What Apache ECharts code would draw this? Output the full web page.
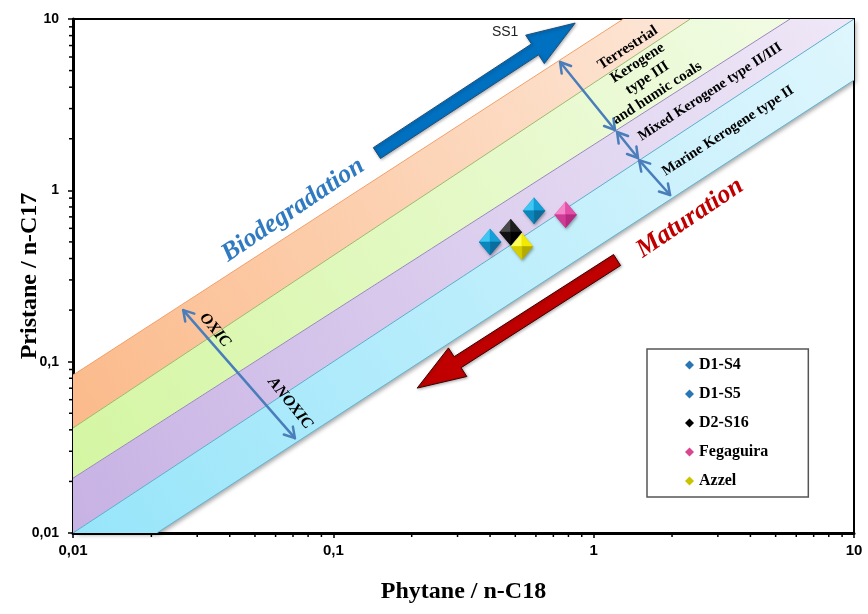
<!DOCTYPE html>
<html>
<head>
<meta charset="utf-8">
<script src="https://cdn.jsdelivr.net/npm/echarts@6/dist/echarts.min.js"></script>
<style>
  html, body { margin: 0; padding: 0; background: #ffffff; }
  #chart { width: 868px; height: 614px; }
</style>
</head>
<body>
<div id="chart"></div>
<script>
// ---- Axis ticks -------------------------------------------------------
const decadeValues = [0.01, 0.1, 1, 10];
const xTickLabels = ['0,01', '0,1', '1', '10'];
const yTickLabels = ['0,01', '0,1', '1', '10'];
const minorTickValues = [
  0.02, 0.03, 0.04, 0.05, 0.06, 0.07, 0.08, 0.09,
  0.2, 0.3, 0.4, 0.5, 0.6, 0.7, 0.8, 0.9,
  2, 3, 4, 5, 6, 7, 8, 9
];

// ---- Kerogene field boundaries, [Ph/n-C18, Pr/n-C17] end points -------
const boundaryMarineLow   = [[0.021, 0.01], [10, 4.4]];
const boundaryMarineMixed = [[0.01, 0.01], [10, 10]];
const boundaryMixedTerr   = [[0.01, 0.0209], [5.68, 10]];
const boundaryTerrMid     = [[0.01, 0.041], [2.35, 10]];
const boundaryTerrHigh    = [[0.01, 0.0835], [1.30, 10]];

// ---- Samples ----------------------------------------------------------
const sampleNames = ['D1-S4', 'D1-S5', 'D2-S16', 'Fegaguira', 'Azzel'];
const phytaneC18  = [0.40, 0.59, 0.48, 0.78, 0.53];
const pristaneC17 = [0.50, 0.76, 0.57, 0.72, 0.47];

// ---- Annotation anchors in data space ---------------------------------
const ss1Arrow        = [[0.147, 1.65], [0.849, 9.47]];
const maturationArrow = [[1.23, 0.392], [0.21, 0.0701]];
const oxicArrow       = [[0.0265, 0.200], [0.0712, 0.0358]];
const terrestrialArrow = [[0.743, 5.61], [1.208, 2.25]];
const mixedArrow      = [[1.23, 2.19], [1.48, 1.544]];
const marineArrow     = [[1.494, 1.50], [1.966, 0.939]];
const ss1Anchor        = [0.457, 8.4];
const biodegAnchor     = [0.070, 0.767];
const maturationAnchor = [2.345, 0.689];
const oxicAnchor       = [0.0351, 0.153];
const anoxicAnchor     = [0.0682, 0.0573];
const terrestrialAnchor = [1.54, 5.0];
const mixedAnchor      = [2.80, 3.75];
const marineAnchor     = [3.28, 2.22];

// ---- Styling ----------------------------------------------------------
const SERIF = '"Liberation Serif", "Times New Roman", serif';
const SANS = '"Liberation Sans", Arial, sans-serif';

const bandDefs = [
  { name: 'marine',  lower: boundaryMarineLow,   upper: boundaryMarineMixed, c0: '#97e5fa', c1: '#dff6fd', shadow: true },
  { name: 'mixed',   lower: boundaryMarineMixed, upper: boundaryMixedTerr,   c0: '#c7b2e4', c1: '#efe8f7' },
  { name: 'terrMid', lower: boundaryMixedTerr,   upper: boundaryTerrMid,     c0: '#d4f6a2', c1: '#f1fbe3' },
  { name: 'terr',    lower: boundaryTerrMid,     upper: boundaryTerrHigh,    c0: '#fbba8a', c1: '#fde6d6' }
];
const boundaryDefs = [
  { line: boundaryMarineLow,   color: '#63b5d2' },
  { line: boundaryMarineMixed, color: '#5aaecb' },
  { line: boundaryMixedTerr,   color: '#9a86bd' },
  { line: boundaryTerrMid,     color: '#9cba6c' },
  { line: boundaryTerrHigh,    color: '#f2a06b' }
];
// facet shades: upper-left, upper-right, lower-right, lower-left
const sampleShades = [
  ['#3fc6f2', '#139fd8', '#0a6d9c', '#0d86bb'],
  ['#3fc6f2', '#139fd8', '#0a6d9c', '#0d86bb'],
  ['#4a4a4a', '#1e1e1e', '#000000', '#111111'],
  ['#f585c8', '#e24fa9', '#b72a83', '#cf3c96'],
  ['#ffff55', '#f2ea00', '#b3ab00', '#d6cf00']
];
const sampleLegendColors = ['#2a76b4', '#2a76b4', '#000000', '#d9458f', '#c9c400'];

function tickIndex(v) {
  return decadeValues.findIndex(d => Math.abs(Math.log10(d) - Math.log10(v)) < 1e-6);
}

const series = [];

// Kerogene field bands
bandDefs.forEach(b => {
  series.push({
    type: 'custom',
    name: b.name,
    silent: true,
    z: 1,
    data: [[b.lower[0][0], b.lower[0][1]]],
    renderItem: function (params, api) {
      const pts = b.lower.concat(b.upper.slice().reverse()).map(p => api.coord(p));
      const style = {
        fill: new echarts.graphic.LinearGradient(0, 1, 1, 0, [
          { offset: 0, color: b.c0 },
          { offset: 1, color: b.c1 }
        ]),
        stroke: 'none'
      };
      if (b.shadow) {
        style.shadowColor = 'rgba(0,0,0,0.35)';
        style.shadowBlur = 4;
        style.shadowOffsetX = 2;
        style.shadowOffsetY = 2;
      }
      return { type: 'polygon', shape: { points: pts }, style: style };
    }
  });
});

// Band boundary lines
boundaryDefs.forEach((b, i) => {
  series.push({
    type: 'line',
    name: 'boundary' + i,
    silent: true,
    z: 2,
    symbol: 'none',
    data: b.line,
    lineStyle: { color: b.color, width: 1 }
  });
});

// Sample markers, drawn as faceted diamonds
sampleNames.forEach((name, i) => {
  const shades = sampleShades[i];
  series.push({
    type: 'custom',
    name: name,
    z: 10,
    itemStyle: { color: sampleLegendColors[i] },
    data: [[phytaneC18[i], pristaneC17[i]]],
    renderItem: function (params, api) {
      const c = api.coord([api.value(0), api.value(1)]);
      const hw = 11, hh = 13;
      const T = [c[0], c[1] - hh], R = [c[0] + hw, c[1]], B = [c[0], c[1] + hh], L = [c[0] - hw, c[1]];
      const facets = [[c, L, T], [c, T, R], [c, R, B], [c, B, L]];
      return {
        type: 'group',
        children: [{
          type: 'polygon',
          shape: { points: [T, R, B, L] },
          style: { fill: shades[2], shadowColor: 'rgba(0,0,0,0.35)', shadowBlur: 3, shadowOffsetX: 1, shadowOffsetY: 2 }
        }].concat(facets.map((f, k) => ({
          type: 'polygon',
          shape: { points: f },
          style: { fill: shades[k], stroke: shades[k], lineWidth: 0.5 }
        })))
      };
    }
  });
});

// Minor log ticks on both axes
series.push({
  type: 'custom',
  name: 'xMinor',
  silent: true,
  clip: false,
  z: 20,
  data: minorTickValues.map(v => [v, 0.01]),
  renderItem: function (params, api) {
    const p = api.coord([api.value(0), api.value(1)]);
    return { type: 'line', shape: { x1: p[0], y1: p[1], x2: p[0], y2: p[1] + 4 }, style: { stroke: '#000', lineWidth: 1.5 } };
  }
});
series.push({
  type: 'custom',
  name: 'yMinor',
  silent: true,
  clip: false,
  z: 20,
  data: minorTickValues.map(v => [0.01, v]),
  renderItem: function (params, api) {
    const p = api.coord([api.value(0), api.value(1)]);
    return { type: 'line', shape: { x1: p[0], y1: p[1], x2: p[0] - 4, y2: p[1] }, style: { stroke: '#000', lineWidth: 1.5 } };
  }
});

const chart = echarts.init(document.getElementById('chart'), null, { renderer: 'canvas' });

chart.setOption({
  backgroundColor: '#ffffff',
  animation: false,
  grid: {
    left: 73, right: 14, top: 19, bottom: 81,
    outerBoundsMode: 'none',
    containLabel: false,
    show: true, borderColor: '#000', borderWidth: 2, backgroundColor: '#ffffff'
  },
  legend: {
    orient: 'vertical',
    left: 647, top: 349,
    padding: [8, 40, 8, 38],
    itemGap: 13,
    itemWidth: 9, itemHeight: 9,
    borderColor: '#555', borderWidth: 1.5,
    backgroundColor: '#ffffff',
    selectedMode: false,
    textStyle: { fontFamily: SERIF, fontWeight: 'bold', fontSize: 16, color: '#000', lineHeight: 14 },
    data: sampleNames.map(n => ({ name: n, icon: 'diamond' }))
  },
  xAxis: {
    type: 'log', logBase: 10, min: 0.01, max: 10,
    name: 'Phytane / n-C18', nameLocation: 'middle', nameGap: 47,
    nameMoveOverlap: false,
    nameTextStyle: { fontFamily: SERIF, fontWeight: 'bold', fontSize: 24, color: '#000' },
    axisLine: { lineStyle: { color: '#000', width: 3 } },
    axisTick: { show: true, length: 5, lineStyle: { color: '#000', width: 1.5 } },
    axisLabel: {
      margin: 10, fontFamily: SANS, fontWeight: 'bold', fontSize: 15, color: '#000',
      formatter: v => xTickLabels[tickIndex(v)]
    },
    splitLine: { show: false }
  },
  yAxis: {
    type: 'log', logBase: 10, min: 0.01, max: 10,
    name: 'Pristane / n-C17', nameLocation: 'middle', nameGap: 31,
    nameMoveOverlap: false,
    nameTextStyle: { fontFamily: SERIF, fontWeight: 'bold', fontSize: 24, color: '#000' },
    axisLine: { lineStyle: { color: '#000', width: 3 } },
    axisTick: { show: true, length: 5, lineStyle: { color: '#000', width: 1.5 } },
    axisLabel: {
      margin: 14, fontFamily: SANS, fontWeight: 'bold', fontSize: 14, color: '#000',
      formatter: v => yTickLabels[tickIndex(v)]
    },
    splitLine: { show: false }
  },
  series: series
});

// ---- Annotations (arrows and labels) placed from data anchors ----------
function px(p) { return chart.convertToPixel({ gridIndex: 0 }, p); }

function blockArrow(from, to, shaftHW, headHW, headLen, fill, stroke) {
  const p0 = px(from), p1 = px(to);
  const dx = p1[0] - p0[0], dy = p1[1] - p0[1], len = Math.hypot(dx, dy);
  const ux = dx / len, uy = dy / len, nx = -uy, ny = ux;
  const nk = [p1[0] - ux * headLen, p1[1] - uy * headLen];
  const pts = [
    [p0[0] + nx * shaftHW, p0[1] + ny * shaftHW],
    [nk[0] + nx * shaftHW, nk[1] + ny * shaftHW],
    [nk[0] + nx * headHW, nk[1] + ny * headHW],
    p1,
    [nk[0] - nx * headHW, nk[1] - ny * headHW],
    [nk[0] - nx * shaftHW, nk[1] - ny * shaftHW],
    [p0[0] - nx * shaftHW, p0[1] - ny * shaftHW]
  ];
  return {
    type: 'polygon', z: 30, silent: true,
    shape: { points: pts },
    style: { fill: fill, stroke: stroke, lineWidth: 1, shadowColor: 'rgba(0,0,0,0.3)', shadowBlur: 3, shadowOffsetX: 1, shadowOffsetY: 1 }
  };
}

function doubleArrow(from, to, color) {
  const p0 = px(from), p1 = px(to);
  const dx = p1[0] - p0[0], dy = p1[1] - p0[1], len = Math.hypot(dx, dy);
  const ux = dx / len, uy = dy / len, nx = -uy, ny = ux;
  const hl = 10, hw = 6;
  const head = (p, s) => [
    [p[0] - s * ux * hl + nx * hw, p[1] - s * uy * hl + ny * hw],
    p,
    [p[0] - s * ux * hl - nx * hw, p[1] - s * uy * hl - ny * hw]
  ];
  const st = { stroke: color, lineWidth: 2.5, fill: null, lineCap: 'round', lineJoin: 'round' };
  return [
    { type: 'line', z: 31, silent: true, shape: { x1: p0[0], y1: p0[1], x2: p1[0], y2: p1[1] }, style: st },
    { type: 'polyline', z: 31, silent: true, shape: { points: head(p1, 1) }, style: st },
    { type: 'polyline', z: 31, silent: true, shape: { points: head(p0, -1) }, style: st }
  ];
}

function label(anchor, text, font, color, rotDeg, extra) {
  const p = px(anchor);
  return {
    type: 'text', z: 32, silent: true,
    x: p[0], y: p[1],
    rotation: rotDeg * Math.PI / 180,
    style: Object.assign({
      text: text, font: font, fill: color, align: 'center', verticalAlign: 'middle'
    }, extra || {})
  };
}

const arrowBlue = '#4a7ebb';
const graphics = [
  blockArrow(ss1Arrow[0], ss1Arrow[1], 6.5, 17, 48, '#0070c0', '#1f4e79'),
  blockArrow(maturationArrow[0], maturationArrow[1], 6.5, 17, 48, '#c00000', '#3a0000'),
  ...doubleArrow(oxicArrow[0], oxicArrow[1], arrowBlue),
  ...doubleArrow(terrestrialArrow[0], terrestrialArrow[1], arrowBlue),
  ...doubleArrow(mixedArrow[0], mixedArrow[1], arrowBlue),
  ...doubleArrow(marineArrow[0], marineArrow[1], arrowBlue),
  label(ss1Anchor, 'SS1', '14px ' + SANS, '#222', 0),
  label(biodegAnchor, 'Biodegradation', 'italic bold 26px ' + SERIF, '#2f7ac0', 34),
  label(maturationAnchor, 'Maturation', 'italic bold 26px ' + SERIF, '#c00000', 34),
  label(oxicAnchor, 'OXIC', 'italic bold 16px ' + SERIF, '#000', -50),
  label(anoxicAnchor, 'ANOXIC', 'italic bold 16px ' + SERIF, '#000', -51),
  label(terrestrialAnchor, 'Terrestrial\nKerogene\ntype III\nand humic coals', 'bold 15px ' + SERIF, '#000', 33, { lineHeight: 18 }),
  label(mixedAnchor, 'Mixed Kerogene type II/III', 'bold 14.5px ' + SERIF, '#000', 33),
  label(marineAnchor, 'Marine Kerogene type II', 'bold 14.5px ' + SERIF, '#000', 33)
];

chart.setOption({ graphic: graphics });
</script>
</body>
</html>
